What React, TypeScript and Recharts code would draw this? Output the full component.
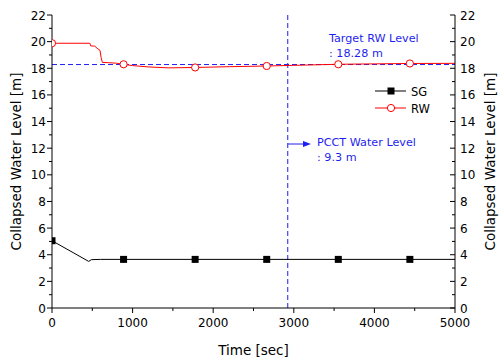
import React from "react";
import { ComposedChart, Line, XAxis, YAxis, ReferenceLine } from "recharts";

// time axis values [sec]
const xTicks = [0, 500, 1000, 1500, 2000, 2500, 3000, 3500, 4000, 4500, 5000];
const yTicks = [0, 1, 2, 3, 4, 5, 6, 7, 8, 9, 10, 11, 12, 13, 14, 15, 16, 17, 18, 19, 20, 21, 22];

// RW (red, open circles)
const rwTime = [0, 470, 480, 530, 560, 595, 610, 625, 700, 800, 888, 1000, 1200, 1450, 1776, 2200, 2664, 3000, 3552, 4000, 4440, 5000];
const rwLevel = [19.88, 19.88, 19.68, 19.66, 19.5, 19.35, 18.8, 18.44, 18.42, 18.38, 18.3, 18.2, 18.1, 18.03, 18.06, 18.12, 18.17, 18.22, 18.3, 18.33, 18.36, 18.37];

// SG (black, filled squares)
const sgTime = [0, 455, 490, 600, 888, 1776, 2664, 3552, 4440, 5000];
const sgLevel = [5.05, 3.5, 3.63, 3.65, 3.65, 3.65, 3.65, 3.65, 3.65, 3.65];

const markerTimes = [0, 888, 1776, 2664, 3552, 4440];

const targetRW = 18.28;
const pcctTime = 2925;

const rwData = rwTime.map((t, i) => ({ t, v: rwLevel[i] }));
const sgData = sgTime.map((t, i) => ({ t, v: sgLevel[i] }));

const FONT = "DejaVu Sans";
const BLUE = "#1f1fee";

const bottomTick = (p: any) => {
  const v = p.payload.value;
  const major = v % 1000 === 0;
  return (
    <g>
      <line x1={p.x} x2={p.x} y1={p.y} y2={p.y + (major ? 5 : 3)} stroke="#000" />
      {major && (
        <text x={p.x} y={p.y + 19} textAnchor="middle" fontSize={12} fontFamily={FONT} fill="#000">
          {v}
        </text>
      )}
    </g>
  );
};

const topTick = (p: any) => {
  const v = p.payload.value;
  const major = v % 1000 === 0;
  return <line x1={p.x} x2={p.x} y1={p.y} y2={p.y + (major ? 5 : 3)} stroke="#000" />;
};

const leftTick = (p: any) => {
  const v = p.payload.value;
  const major = v % 2 === 0;
  return (
    <g>
      <line x1={p.x - (major ? 5 : 3)} x2={p.x} y1={p.y} y2={p.y} stroke="#000" />
      {major && (
        <text x={p.x - 6} y={p.y + 4.5} textAnchor="end" fontSize={12} fontFamily={FONT} fill="#000">
          {v}
        </text>
      )}
    </g>
  );
};

const rightTick = (p: any) => {
  const v = p.payload.value;
  const major = v % 2 === 0;
  return (
    <g>
      <line x1={p.x - (major ? 5 : 3)} x2={p.x} y1={p.y} y2={p.y} stroke="#000" />
      {major && (
        <text x={p.x + 5} y={p.y + 4.5} textAnchor="start" fontSize={12} fontFamily={FONT} fill="#000">
          {v}
        </text>
      )}
    </g>
  );
};

const rwDot = (p: any) => {
  if (!markerTimes.includes(p.payload.t)) return <g key={p.key} />;
  return <circle key={p.key} cx={p.cx} cy={p.cy} r={3.6} fill="#fff" stroke="#ff0000" strokeWidth={1} />;
};

const sgDot = (p: any) => {
  if (!markerTimes.includes(p.payload.t)) return <g key={p.key} />;
  return <rect key={p.key} x={p.cx - 3.5} y={p.cy - 3.5} width={7} height={7} fill="#000" />;
};

export default function App() {
  return (
    <div style={{ position: "absolute", left: 0, top: 0, width: 500, height: 362, background: "#fff" }}>
      <ComposedChart width={500} height={362} margin={{ top: 15, right: 0, bottom: 0, left: 0 }}>
        <XAxis
          dataKey="t"
          type="number"
          domain={[0, 5000]}
          ticks={xTicks}
          interval={0}
          height={54}
          tickSize={0}
          tickMargin={0}
          tickLine={false}
          tick={bottomTick}
          stroke="#000"
          allowDataOverflow
        />
        <XAxis
          xAxisId="top"
          orientation="top"
          dataKey="t"
          type="number"
          domain={[0, 5000]}
          ticks={xTicks}
          interval={0}
          height={0}
          tickSize={0}
          tickMargin={0}
          tickLine={false}
          tick={topTick}
          stroke="#000"
          allowDataOverflow
        />
        <YAxis
          yAxisId="left"
          type="number"
          domain={[0, 22]}
          ticks={yTicks}
          interval={0}
          width={52}
          tickSize={0}
          tickMargin={0}
          tickLine={false}
          tick={leftTick}
          stroke="#000"
          allowDataOverflow
        />
        <YAxis
          yAxisId="right"
          orientation="right"
          type="number"
          domain={[0, 22]}
          ticks={yTicks}
          interval={0}
          width={45}
          tickSize={0}
          tickMargin={0}
          tickLine={false}
          tick={rightTick}
          stroke="#000"
          allowDataOverflow
        />
        <ReferenceLine yAxisId="left" y={targetRW} stroke={BLUE} strokeDasharray="5 3" />
        <ReferenceLine yAxisId="left" x={pcctTime} stroke={BLUE} strokeDasharray="5 3" />
        {/* invisible series so the mirrored top/right axes get their ticks */}
        <Line
          xAxisId="top"
          yAxisId="right"
          data={rwData}
          dataKey="v"
          stroke="none"
          dot={false}
          activeDot={false}
          legendType="none"
          isAnimationActive={false}
        />
        <Line
          yAxisId="left"
          data={sgData}
          dataKey="v"
          stroke="#000"
          strokeWidth={1}
          dot={sgDot}
          isAnimationActive={false}
        />
        <Line
          yAxisId="left"
          data={rwData}
          dataKey="v"
          stroke="#ff0000"
          strokeWidth={1}
          dot={rwDot}
          isAnimationActive={false}
        />
      </ComposedChart>
      <svg
        width={500}
        height={362}
        style={{ position: "absolute", left: 0, top: 0, pointerEvents: "none" }}
        fontFamily={FONT}
      >
        {/* axis titles */}
        <text x={16} y={161.5} transform="rotate(-90 16 161.5)" textAnchor="middle" dominantBaseline="central" fontSize={13.5}>
          Collapsed Water Level [m]
        </text>
        <text x={490} y={161.5} transform="rotate(-90 490 161.5)" textAnchor="middle" dominantBaseline="central" fontSize={13.5}>
          Collapsed Water Level [m]
        </text>
        <text x={253.5} y={355} textAnchor="middle" fontSize={13.5}>
          Time [sec]
        </text>
        {/* annotations */}
        <text x={329} y={42} fontSize={11.2} fill={BLUE}>Target RW Level</text>
        <text x={329} y={57} fontSize={11.2} fill={BLUE}>: 18.28 m</text>
        <text x={317} y={146} fontSize={11.2} fill={BLUE}>PCCT Water Level</text>
        <text x={317} y={161} fontSize={11.2} fill={BLUE}>: 9.3 m</text>
        <line x1={288} x2={304} y1={144} y2={144} stroke={BLUE} />
        <polygon points="311,144 303,141 303,147" fill={BLUE} />
        {/* legend */}
        <line x1={375} x2={406} y1={91} y2={91} stroke="#000" />
        <rect x={387.5} y={87.5} width={7} height={7} fill="#000" />
        <text x={411} y={95.5} fontSize={11.5}>SG</text>
        <line x1={375} x2={406} y1={108} y2={108} stroke="#ff0000" />
        <circle cx={391} cy={108} r={3.6} fill="#fff" stroke="#ff0000" />
        <text x={411} y={112.5} fontSize={11.5}>RW</text>
      </svg>
    </div>
  );
}
